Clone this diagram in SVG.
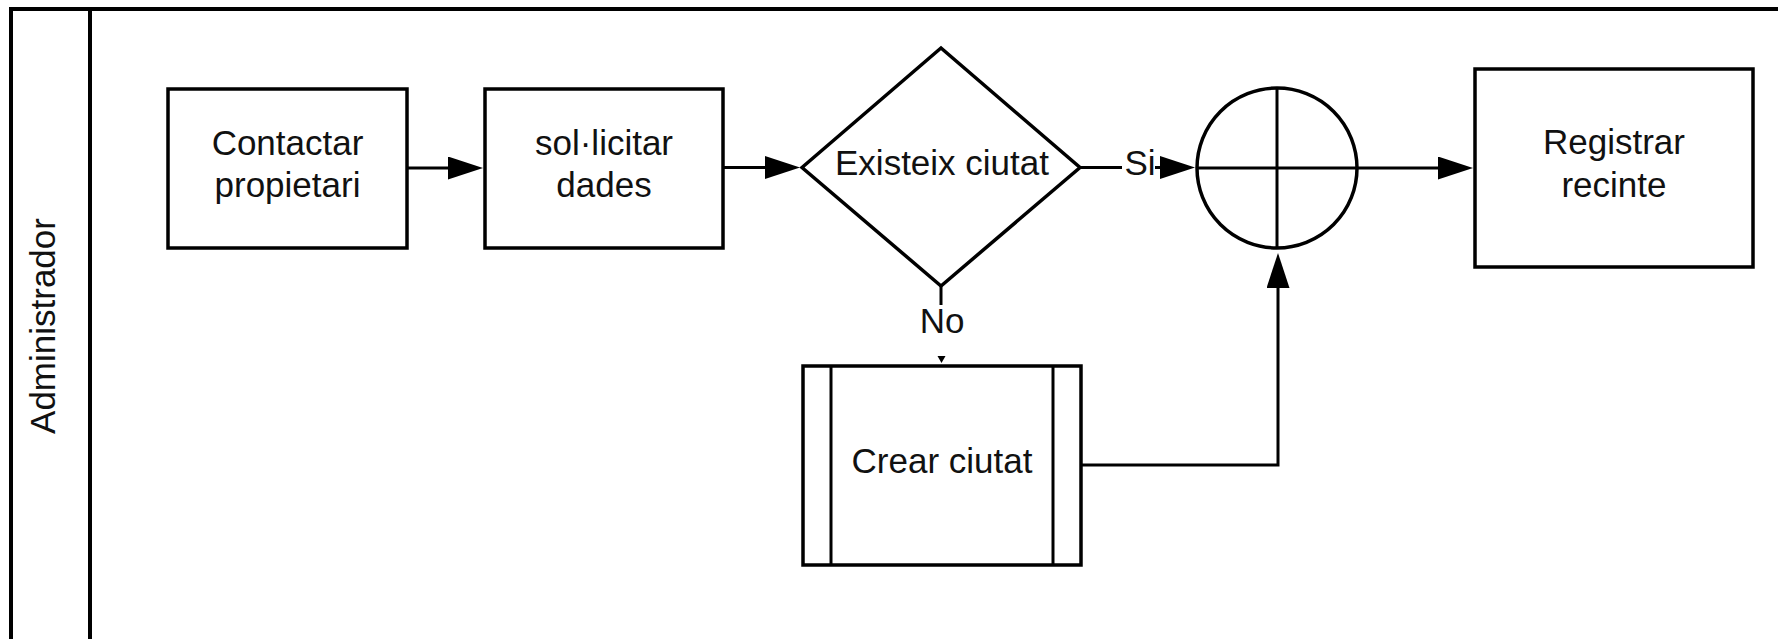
<svg xmlns="http://www.w3.org/2000/svg" width="1778" height="639" viewBox="0 0 1778 639">
  <defs>
    <style>
      .shape{fill:#fff;stroke:#000;stroke-width:3.5}
      .edge{fill:none;stroke:#000;stroke-width:3}
      .frame{fill:none;stroke:#000;stroke-width:4}
      .lbl{font-family:"Liberation Sans",Arial,sans-serif;font-size:35px;fill:#111;text-anchor:middle}
    </style>
    <marker id="arrow" markerUnits="userSpaceOnUse" markerWidth="36" markerHeight="24" refX="1" refY="11.5" orient="auto">
      <path d="M0,0 L35,11.5 L0,23 Z" fill="#000"/>
    </marker>
  </defs>

  <rect width="1778" height="639" fill="#fff"/>

  <!-- swimlane pool -->
  <g id="pool">
    <path class="frame" d="M11,660 V9 H1800"/>
    <line class="frame" x1="90" y1="9" x2="90" y2="660"/>
    <text class="lbl" transform="translate(55,326) rotate(-90)">Administrador</text>
  </g>

  <!-- connectors -->
  <g id="connectors">
    <path class="edge" d="M407,168 H449" marker-end="url(#arrow)"/>
    <path class="edge" d="M723,167.5 H766" marker-end="url(#arrow)"/>
    <path class="edge" d="M1080,167.5 H1122"/>
    <text class="lbl" x="1140" y="175">Si</text>
    <path class="edge" d="M1155,167.5 H1161" marker-end="url(#arrow)"/>
    <path class="edge" d="M1357,168 H1439" marker-end="url(#arrow)"/>
    <path class="edge" d="M1081,465 H1278 V287" marker-end="url(#arrow)"/>
    <path class="edge" d="M941,286 V305"/>
    <text class="lbl" x="942" y="333">No</text>
    <polygon points="937.5,356 945.5,356 941.5,363" fill="#000"/>
  </g>

  <g id="contactar">
    <rect class="shape" x="168" y="89" width="239" height="159"/>
    <text class="lbl" x="287.5" y="155">Contactar</text>
    <text class="lbl" x="287.5" y="197">propietari</text>
  </g>

  <g id="sollicitar">
    <rect class="shape" x="485" y="89" width="238" height="159"/>
    <text class="lbl" x="604" y="155">sol·licitar</text>
    <text class="lbl" x="604" y="197">dades</text>
  </g>

  <g id="existeix">
    <polygon class="shape" stroke-width="3" points="802,167.5 941,48 1080,167.5 941,286"/>
    <text class="lbl" x="942" y="175">Existeix ciutat</text>
  </g>

  <g id="gateway">
    <circle class="shape" stroke-width="3" cx="1277" cy="168" r="80"/>
    <line class="edge" x1="1197" y1="168" x2="1357" y2="168"/>
    <line class="edge" x1="1277" y1="88" x2="1277" y2="248"/>
  </g>

  <g id="registrar">
    <rect class="shape" x="1475" y="69" width="278" height="198"/>
    <text class="lbl" x="1614" y="154">Registrar</text>
    <text class="lbl" x="1614" y="197">recinte</text>
  </g>

  <g id="crear">
    <rect class="shape" x="803" y="366" width="278" height="199"/>
    <line class="edge" x1="831" y1="366" x2="831" y2="565"/>
    <line class="edge" x1="1053" y1="366" x2="1053" y2="565"/>
    <text class="lbl" x="942" y="473">Crear ciutat</text>
  </g>
</svg>
